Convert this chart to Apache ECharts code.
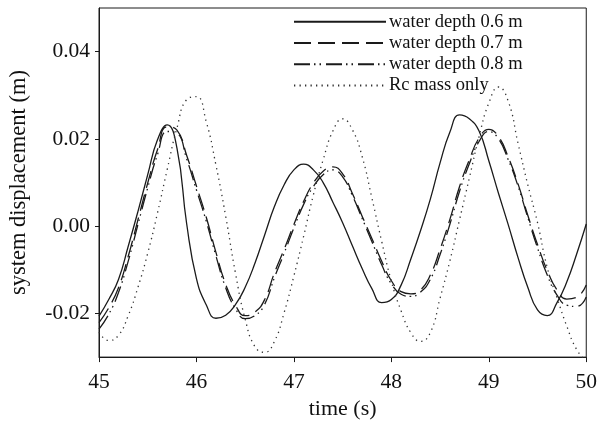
<!DOCTYPE html>
<html><head><meta charset="utf-8">
<script src="https://cdn.jsdelivr.net/npm/echarts@6/dist/echarts.min.js"></script>
<style>html,body{margin:0;padding:0;background:#fff}#c{width:600px;height:425px}</style>
</head><body><div id="c"></div>
<script>
const seriesNames = ['water depth 0.6 m','water depth 0.7 m','water depth 0.8 m','Rc mass only'];
const yTicks = [-0.02, 0.00, 0.02, 0.04];

const times = [45.0,45.1,45.2,45.3,45.4,45.5,45.6,45.7,45.8,45.9,
               46.0,46.1,46.2,46.3,46.4,46.5,46.6,46.7,46.8,46.9,
               47.0,47.1,47.2,47.3,47.4,47.5,47.6,47.7,47.8,47.9,
               48.0,48.1,48.2,48.3,48.4,48.5,48.6,48.7,48.8,48.9,
               49.0,49.1,49.2,49.3,49.4,49.5,49.6,49.7,49.8,49.9,50.0];

const depth06 = [-0.0206,-0.0168,-0.0122,-0.0046,0.0034,0.0118,0.0198,0.0232,0.0179,0.0005,
                 -0.0120,-0.0180,-0.0211,-0.0204,-0.0180,-0.0140,-0.0085,-0.0020,0.0045,0.0095,
                 0.0129,0.0142,0.0129,0.0100,0.0055,0.0008,-0.0045,-0.0097,-0.0143,-0.0175,
                 -0.0168,-0.0135,-0.0075,-0.0010,0.0062,0.0145,0.0215,0.0255,0.0246,0.0218,
                 0.0150,0.0075,0.0003,-0.0072,-0.0140,-0.0192,-0.0205,-0.0175,-0.0128,-0.0065,0.0005];

const depth07 = [-0.0221,-0.0187,-0.0141,-0.0069,0.0015,0.0099,0.0175,0.0228,0.0220,0.0162,
                 0.0092,0.0021,-0.0060,-0.0133,-0.0181,-0.0205,-0.0197,-0.0168,-0.0107,-0.0053,
                 0.0004,0.0057,0.0099,0.0126,0.0136,0.0120,0.0075,0.0023,-0.0028,-0.0080,
                 -0.0125,-0.0150,-0.0155,-0.0146,-0.0112,-0.0053,0.0015,0.0091,0.0152,0.0202,
                 0.0222,0.0205,0.0158,0.0097,0.0025,-0.0042,-0.0102,-0.0146,-0.0167,-0.0163,-0.0135];

const depth08 = [-0.0236,-0.0202,-0.0152,-0.0080,0.0004,0.0088,0.0164,0.0217,0.0213,0.0154,
                 0.0083,0.0012,-0.0068,-0.0141,-0.0189,-0.0212,-0.0205,-0.0179,-0.0118,-0.0062,
                 -0.0004,0.0050,0.0091,0.0118,0.0129,0.0113,0.0070,0.0018,-0.0035,-0.0088,
                 -0.0132,-0.0156,-0.0161,-0.0151,-0.0122,-0.0065,0.0004,0.0080,0.0143,0.0194,
                 0.0217,0.0200,0.0152,0.0092,0.0020,-0.0050,-0.0112,-0.0158,-0.0181,-0.0184,-0.0162];

const rcMassOnly = [-0.0243,-0.0262,-0.0250,-0.0205,-0.0140,-0.0062,0.0030,0.0130,0.0225,0.0290,
                    0.0297,0.0240,0.0140,0.0023,-0.0107,-0.0213,-0.0276,-0.0289,-0.0264,-0.0198,
                    -0.0114,-0.0023,0.0072,0.0152,0.0218,0.0246,0.0221,0.0160,0.0065,-0.0034,
                    -0.0126,-0.0194,-0.0244,-0.0264,-0.0244,-0.0165,-0.0080,0.0015,0.0110,0.0205,
                    0.0282,0.0319,0.0286,0.0190,0.0095,0.0008,-0.0095,-0.0164,-0.0229,-0.0282,-0.0309];

function pairs(t, v){ return t.map((x,i)=>[x, v[i]]); }

const font = 'Liberation Serif';
const ink = '#1a1a1a';
const chart = echarts.init(document.getElementById('c'), null, {renderer:'canvas'});
const styles = [
  {type:'solid', width:1.3, color:ink},
  {type:[17,7], width:1.3, color:ink},
  {type:[16,4,1.5,4,1.5,5], width:1.3, color:ink},
  {type:[1.3,4.2], width:1.3, color:'#333'}
];
const datas = [pairs(times,depth06), pairs(times,depth07), pairs(times,depth08), pairs(times,rcMassOnly)];
chart.setOption({
  animation:false,
  backgroundColor:'#fff',
  grid:{left:98, right:13, top:8, bottom:67, show:true, borderColor:ink, borderWidth:1},
  legend:{
    orient:'vertical', left:288, top:6, itemWidth:92, itemHeight:10, itemGap:0,
    itemStyle:{opacity:0},
    textStyle:{fontFamily:font, fontSize:18.5, color:'#111', lineHeight:21.3, padding:[0,0,0,-2]},
    data:seriesNames
  },
  xAxis:{
    type:'value', min:45, max:50, interval:1,
    name:'time (s)', nameLocation:'middle', nameGap:32,
    nameTextStyle:{fontFamily:font, fontSize:22, color:'#111'},
    axisLine:{onZero:false, lineStyle:{color:ink}},
    axisTick:{show:true, inside:false, length:5, lineStyle:{color:ink}},
    axisLabel:{fontFamily:font, fontSize:21.5, color:'#111', margin:14},
    splitLine:{show:false}
  },
  yAxis:{
    type:'value', min:-0.03, max:0.05,
    name:'system displacement (m)', nameLocation:'middle', nameGap:68,
    nameTextStyle:{fontFamily:font, fontSize:22.5, color:'#111'},
    axisLine:{show:true, onZero:false, lineStyle:{color:ink}},
    axisTick:{show:true, inside:false, length:4, lineStyle:{color:ink}, customValues:yTicks},
    axisLabel:{fontFamily:font, fontSize:21.5, color:'#111', margin:9, customValues:yTicks,
      formatter:v=>v.toFixed(2)},
    splitLine:{show:false}
  },
  series: seriesNames.map((n,i)=>({
    name:n, type:'line', data:datas[i], smooth:0.5, symbol:'none', clip:true,
    lineStyle:styles[i], itemStyle:{color:styles[i].color}
  }))
});
</script></body></html>
